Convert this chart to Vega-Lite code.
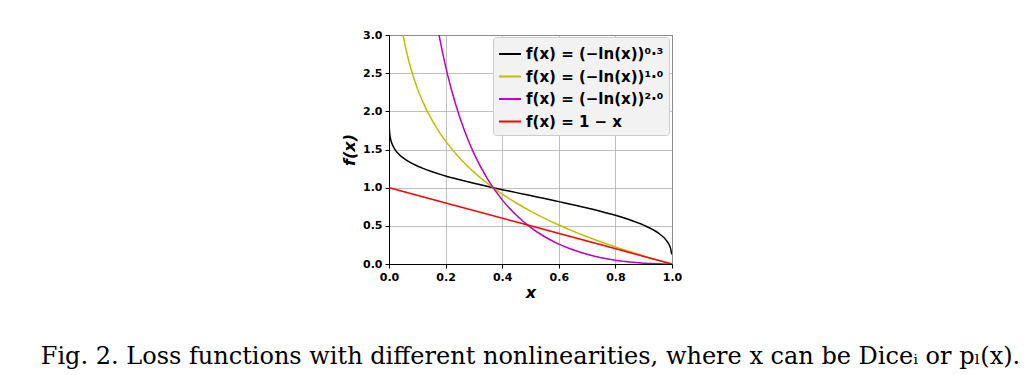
{
  "$schema": "https://vega.github.io/schema/vega-lite/v6.json",
  "width": 283,
  "height": 229,
  "autosize": {"type": "none"},
  "padding": {"left": 389, "top": 35, "right": 363, "bottom": 111},
  "background": "white",
  "title": {
    "text": "Fig. 2. Loss functions with different nonlinearities, where x can be Diceᵢ or pₗ(x).",
    "orient": "bottom",
    "anchor": "middle",
    "font": "DejaVu Serif",
    "fontSize": 24,
    "fontWeight": "normal",
    "color": "black",
    "offset": 45
  },
  "config": {
    "view": {"stroke": "black", "strokeWidth": 1},
    "axis": {
      "labelFont": "DejaVu Sans",
      "labelFontWeight": "bold",
      "labelFontSize": 11,
      "labelColor": "black",
      "labelPadding": 3,
      "tickColor": "black",
      "tickSize": 4,
      "domainColor": "black",
      "gridColor": "#b0b0b0",
      "gridWidth": 0.8,
      "titleFont": "DejaVu Sans",
      "titleFontStyle": "italic",
      "titleFontWeight": "bold",
      "titleFontSize": 16,
      "titleColor": "black",
      "labelFlush": false
    },
    "legend": {
      "orient": "none",
      "legendX": 104,
      "legendY": 2,
      "fillColor": "#f2f2f2",
      "strokeColor": "#cccccc",
      "cornerRadius": 3,
      "padding": 5,
      "symbolType": "stroke",
      "symbolSize": 480,
      "symbolStrokeWidth": 2,
      "labelFont": "DejaVu Sans",
      "labelFontWeight": "bold",
      "labelFontSize": 15,
      "labelColor": "black",
      "labelLimit": 300,
      "rowPadding": 2.5,
      "title": null
    }
  },
  "data": {
    "values": [
      {"s": "a", "x": 0.001, "y": 1.786},
      {"s": "a", "x": 0.002, "y": 1.730},
      {"s": "a", "x": 0.003, "y": 1.695},
      {"s": "a", "x": 0.005, "y": 1.649},
      {"s": "a", "x": 0.01, "y": 1.581},
      {"s": "a", "x": 0.02, "y": 1.506},
      {"s": "a", "x": 0.03, "y": 1.457},
      {"s": "a", "x": 0.04, "y": 1.420},
      {"s": "a", "x": 0.05, "y": 1.390},
      {"s": "a", "x": 0.07, "y": 1.341},
      {"s": "a", "x": 0.1, "y": 1.284},
      {"s": "a", "x": 0.12, "y": 1.253},
      {"s": "a", "x": 0.15, "y": 1.212},
      {"s": "a", "x": 0.18, "y": 1.176},
      {"s": "a", "x": 0.2, "y": 1.153},
      {"s": "a", "x": 0.25, "y": 1.103},
      {"s": "a", "x": 0.3, "y": 1.057},
      {"s": "a", "x": 0.35, "y": 1.015},
      {"s": "a", "x": 0.4, "y": 0.974},
      {"s": "a", "x": 0.45, "y": 0.935},
      {"s": "a", "x": 0.5, "y": 0.896},
      {"s": "a", "x": 0.55, "y": 0.857},
      {"s": "a", "x": 0.6, "y": 0.817},
      {"s": "a", "x": 0.65, "y": 0.777},
      {"s": "a", "x": 0.7, "y": 0.734},
      {"s": "a", "x": 0.75, "y": 0.688},
      {"s": "a", "x": 0.8, "y": 0.638},
      {"s": "a", "x": 0.85, "y": 0.580},
      {"s": "a", "x": 0.9, "y": 0.509},
      {"s": "a", "x": 0.95, "y": 0.410},
      {"s": "a", "x": 0.98, "y": 0.310},
      {"s": "a", "x": 0.99, "y": 0.252},
      {"s": "a", "x": 0.995, "y": 0.204},
      {"s": "a", "x": 0.999, "y": 0.126},
      {"s": "b", "x": 0.02, "y": 3.912},
      {"s": "b", "x": 0.03, "y": 3.507},
      {"s": "b", "x": 0.04, "y": 3.219},
      {"s": "b", "x": 0.05, "y": 2.996},
      {"s": "b", "x": 0.06, "y": 2.813},
      {"s": "b", "x": 0.07, "y": 2.659},
      {"s": "b", "x": 0.08, "y": 2.526},
      {"s": "b", "x": 0.1, "y": 2.303},
      {"s": "b", "x": 0.12, "y": 2.120},
      {"s": "b", "x": 0.15, "y": 1.897},
      {"s": "b", "x": 0.18, "y": 1.715},
      {"s": "b", "x": 0.2, "y": 1.609},
      {"s": "b", "x": 0.25, "y": 1.386},
      {"s": "b", "x": 0.3, "y": 1.204},
      {"s": "b", "x": 0.35, "y": 1.050},
      {"s": "b", "x": 0.4, "y": 0.916},
      {"s": "b", "x": 0.45, "y": 0.799},
      {"s": "b", "x": 0.5, "y": 0.693},
      {"s": "b", "x": 0.55, "y": 0.598},
      {"s": "b", "x": 0.6, "y": 0.511},
      {"s": "b", "x": 0.65, "y": 0.431},
      {"s": "b", "x": 0.7, "y": 0.357},
      {"s": "b", "x": 0.75, "y": 0.288},
      {"s": "b", "x": 0.8, "y": 0.223},
      {"s": "b", "x": 0.85, "y": 0.163},
      {"s": "b", "x": 0.9, "y": 0.105},
      {"s": "b", "x": 0.95, "y": 0.051},
      {"s": "b", "x": 0.999, "y": 0.001},
      {"s": "c", "x": 0.1, "y": 5.302},
      {"s": "c", "x": 0.12, "y": 4.496},
      {"s": "c", "x": 0.15, "y": 3.599},
      {"s": "c", "x": 0.16, "y": 3.358},
      {"s": "c", "x": 0.18, "y": 2.940},
      {"s": "c", "x": 0.2, "y": 2.590},
      {"s": "c", "x": 0.22, "y": 2.293},
      {"s": "c", "x": 0.25, "y": 1.922},
      {"s": "c", "x": 0.28, "y": 1.621},
      {"s": "c", "x": 0.3, "y": 1.450},
      {"s": "c", "x": 0.35, "y": 1.102},
      {"s": "c", "x": 0.4, "y": 0.840},
      {"s": "c", "x": 0.45, "y": 0.638},
      {"s": "c", "x": 0.5, "y": 0.480},
      {"s": "c", "x": 0.55, "y": 0.357},
      {"s": "c", "x": 0.6, "y": 0.261},
      {"s": "c", "x": 0.65, "y": 0.186},
      {"s": "c", "x": 0.7, "y": 0.127},
      {"s": "c", "x": 0.75, "y": 0.083},
      {"s": "c", "x": 0.8, "y": 0.050},
      {"s": "c", "x": 0.85, "y": 0.026},
      {"s": "c", "x": 0.9, "y": 0.011},
      {"s": "c", "x": 0.95, "y": 0.003},
      {"s": "c", "x": 0.999, "y": 0.0},
      {"s": "d", "x": 0.001, "y": 0.999},
      {"s": "d", "x": 0.5, "y": 0.5},
      {"s": "d", "x": 0.999, "y": 0.001}
    ]
  },
  "mark": {"type": "line", "clip": true, "strokeWidth": 1.5, "interpolate": "monotone"},
  "encoding": {
    "x": {
      "field": "x",
      "type": "quantitative",
      "scale": {"domain": [0, 1], "nice": false, "zero": false},
      "axis": {"title": "x", "values": [0, 0.2, 0.4, 0.6, 0.8, 1], "format": ".1f", "titlePadding": 2}
    },
    "y": {
      "field": "y",
      "type": "quantitative",
      "scale": {"domain": [0, 3], "nice": false, "zero": false},
      "axis": {"title": "f(x)", "values": [0, 0.5, 1, 1.5, 2, 2.5, 3], "format": ".1f", "titlePadding": 5}
    },
    "color": {
      "field": "s",
      "type": "nominal",
      "scale": {"domain": ["a", "b", "c", "d"], "range": ["black", "#bfbf00", "#bf00bf", "red"]},
      "legend": {
        "labelExpr": "datum.value == 'a' ? 'f(x) = (−ln(x))⁰·³' : datum.value == 'b' ? 'f(x) = (−ln(x))¹·⁰' : datum.value == 'c' ? 'f(x) = (−ln(x))²·⁰' : 'f(x) = 1 − x'"
      }
    }
  }
}
